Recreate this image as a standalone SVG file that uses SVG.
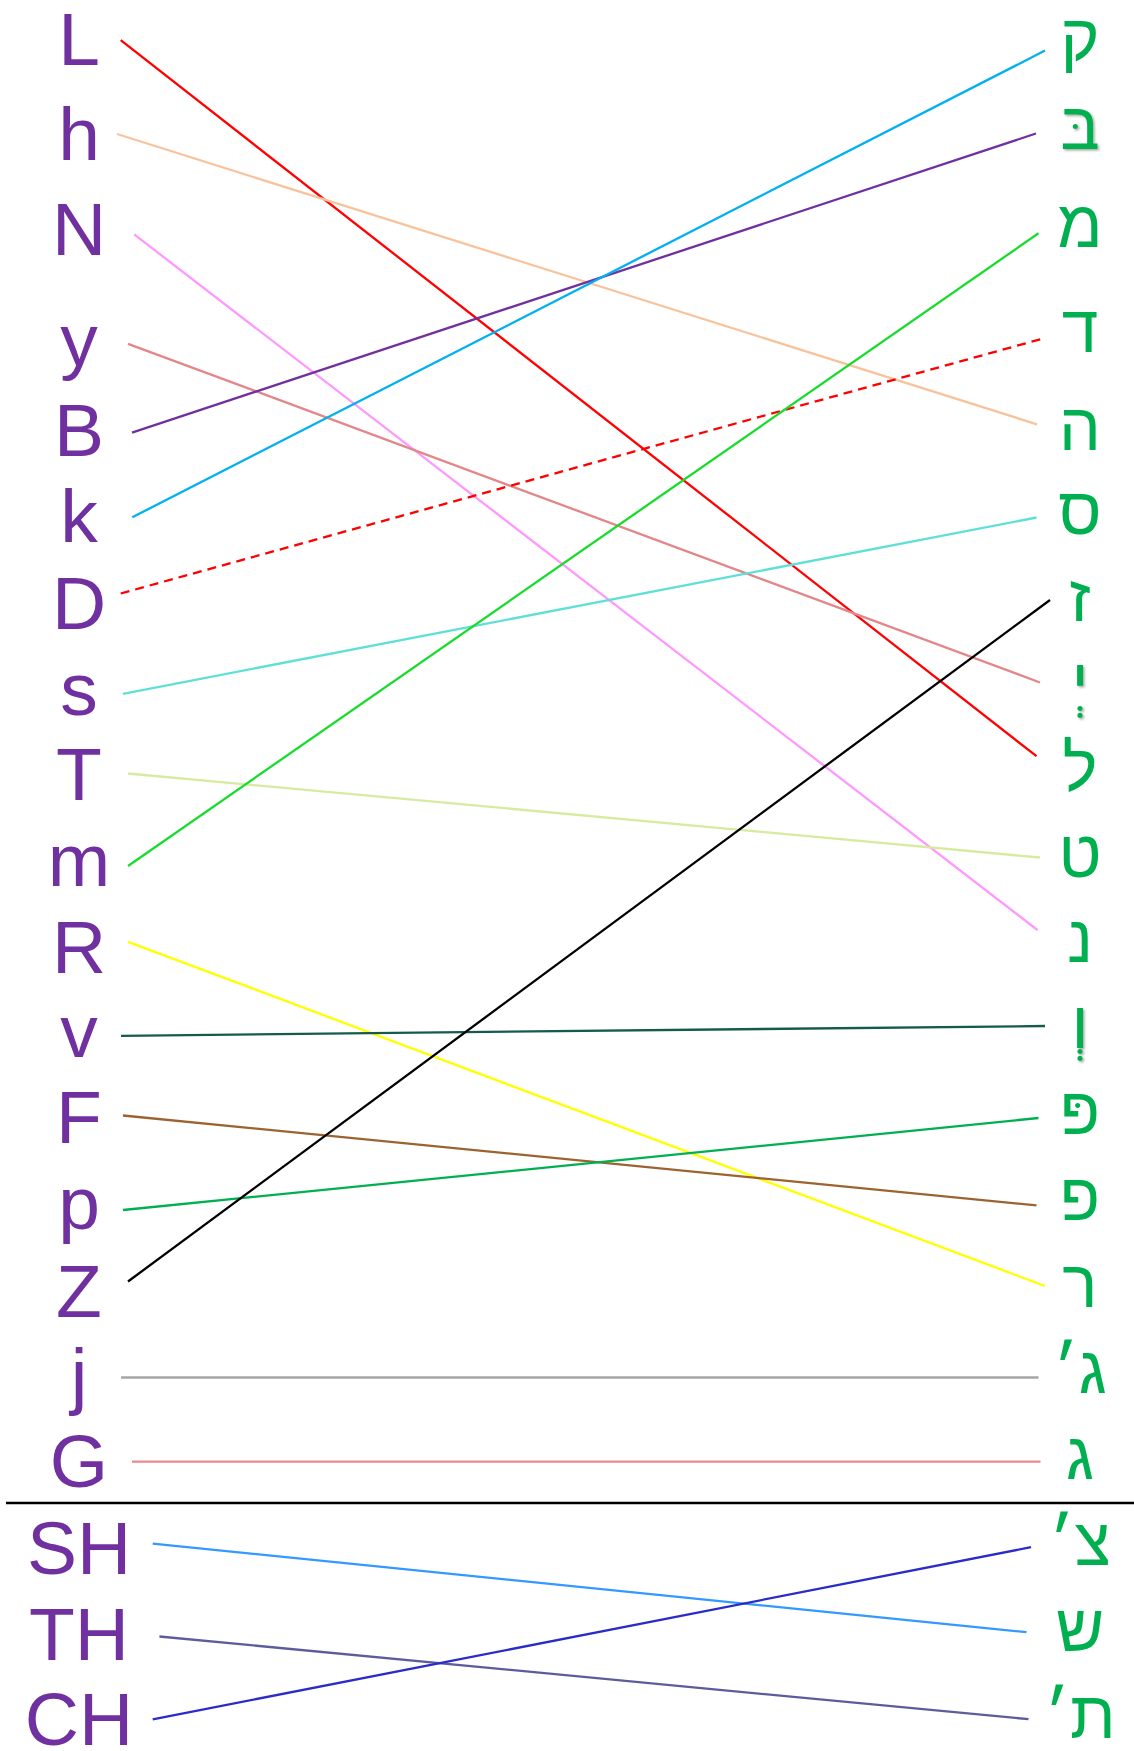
<svg xmlns="http://www.w3.org/2000/svg" width="1134" height="1751" viewBox="0 0 1134 1751">
<style>
.lt{font-family:"Liberation Sans",Arial,sans-serif;font-size:75px;fill:#7030A0;text-anchor:middle}
.he{font-family:"Liberation Sans","DejaVu Sans",sans-serif;font-size:66px;fill:#00B050;text-anchor:middle}
.c line{stroke-width:2.3;fill:none}
</style>
<defs>
<filter id="sh" x="-20%" y="-20%" width="140%" height="140%">
<feDropShadow dx="1.5" dy="1.5" stdDeviation="1.2" flood-color="#000" flood-opacity="0.35"/>
</filter>
</defs>
<rect width="1134" height="1751" fill="#fff"/>
<g id="connectors" class="c">
<line x1="120.7" y1="40.2" x2="1036.5" y2="756.2" stroke="#FF0000"/>
<line x1="117" y1="134" x2="1037" y2="424.3" stroke="#F8C39B"/>
<line x1="134.2" y1="234.4" x2="1037.5" y2="930" stroke="#FF99FF"/>
<line x1="128" y1="343.8" x2="1040" y2="682.5" stroke="#E3868A"/>
<line x1="132" y1="432.6" x2="1036" y2="133.5" stroke="#7030A0"/>
<line x1="132.3" y1="517.3" x2="1045" y2="50.6" stroke="#00B0F0"/>
<line x1="120.7" y1="593.5" x2="1045" y2="338" stroke="#FF0000" stroke-dasharray="9,6"/>
<line x1="123" y1="693.8" x2="1036.5" y2="517.5" stroke="#5FE0D6"/>
<line x1="128" y1="773.5" x2="1040" y2="857.5" stroke="#D7EBA0"/>
<line x1="128" y1="866" x2="1038.5" y2="233.3" stroke="#17DC2C"/>
<line x1="128" y1="941.8" x2="1045" y2="1286" stroke="#FFFF00"/>
<line x1="121" y1="1035.8" x2="1045" y2="1026" stroke="#155B4C"/>
<line x1="123" y1="1115.5" x2="1036.5" y2="1205.4" stroke="#9C6330"/>
<line x1="123" y1="1210" x2="1038.5" y2="1118" stroke="#00B050"/>
<line x1="128" y1="1281.5" x2="1050" y2="600" stroke="#000000"/>
<line x1="121" y1="1377.5" x2="1038.5" y2="1377.5" stroke="#A6A6A6"/>
<line x1="132" y1="1461.7" x2="1040.5" y2="1461.7" stroke="#E8898C"/>
<line x1="6" y1="1503" x2="1134" y2="1503" stroke="#000000"/>
<line x1="152.7" y1="1543.6" x2="1026.5" y2="1632.2" stroke="#3399FF"/>
<line x1="159.4" y1="1636.5" x2="1028.5" y2="1719.2" stroke="#5C5C9C"/>
<line x1="152.7" y1="1719.4" x2="1031" y2="1547.2" stroke="#2B2BC8"/>
</g>
<g id="left-L"><text class="lt" x="79" y="65">L</text></g>
<g id="left-h"><text class="lt" x="79" y="160">h</text></g>
<g id="left-N"><text class="lt" x="79" y="254.5">N</text></g>
<g id="left-y"><text class="lt" x="79" y="366">y</text></g>
<g id="left-B"><text class="lt" x="79" y="456">B</text></g>
<g id="left-k"><text class="lt" x="79" y="541.5">k</text></g>
<g id="left-D"><text class="lt" x="79" y="629">D</text></g>
<g id="left-s"><text class="lt" x="79" y="715">s</text></g>
<g id="left-T"><text class="lt" x="79" y="800">T</text></g>
<g id="left-m"><text class="lt" x="79" y="886">m</text></g>
<g id="left-R"><text class="lt" x="79" y="973">R</text></g>
<g id="left-v"><text class="lt" x="79" y="1057">v</text></g>
<g id="left-F"><text class="lt" x="79" y="1143">F</text></g>
<g id="left-p"><text class="lt" x="79" y="1229">p</text></g>
<g id="left-Z"><text class="lt" x="79" y="1317">Z</text></g>
<g id="left-j"><text class="lt" x="79" y="1401">j</text></g>
<g id="left-G"><text class="lt" x="79" y="1487">G</text></g>
<g id="left-SH"><text class="lt" x="79" y="1574">SH</text></g>
<g id="left-TH"><text class="lt" x="79" y="1660">TH</text></g>
<g id="left-CH"><text class="lt" x="79" y="1745">CH</text></g>
<g id="right-qof"><text class="he" x="1080" y="61">ק</text></g>
<g id="right-bet"><text class="he" x="1080" y="149" filter="url(#sh)">בּ</text></g>
<g id="right-mem"><text class="he" x="1080" y="247">מ</text></g>
<g id="right-dalet"><text class="he" x="1080" y="352">ד</text></g>
<g id="right-he"><text class="he" x="1080" y="450">ה</text></g>
<g id="right-samekh"><text class="he" x="1080" y="534">ס</text></g>
<g id="right-zayin"><text class="he" x="1080" y="621">ז</text></g>
<g id="right-yod"><text class="he" x="1080" y="705" filter="url(#sh)">יְ</text></g>
<g id="right-lamed"><text class="he" x="1080" y="791">ל</text></g>
<g id="right-tet"><text class="he" x="1080" y="877">ט</text></g>
<g id="right-nun"><text class="he" x="1080" y="962">נ</text></g>
<g id="right-vav"><text class="he" x="1080" y="1048" filter="url(#sh)">וְ</text></g>
<g id="right-pe-dagesh"><text class="he" x="1080" y="1134">פּ</text></g>
<g id="right-pe"><text class="he" x="1080" y="1220">פ</text></g>
<g id="right-resh"><text class="he" x="1080" y="1307">ר</text></g>
<g id="right-gimel-geresh"><text class="he" x="1080" y="1393">ג׳</text></g>
<g id="right-gimel"><text class="he" x="1080" y="1479">ג</text></g>
<g id="right-tsadi-geresh"><text class="he" x="1080" y="1565">צ׳</text></g>
<g id="right-shin"><text class="he" x="1080" y="1651">ש</text></g>
<g id="right-tav-geresh"><text class="he" x="1080" y="1738">ת׳</text></g>
</svg>
